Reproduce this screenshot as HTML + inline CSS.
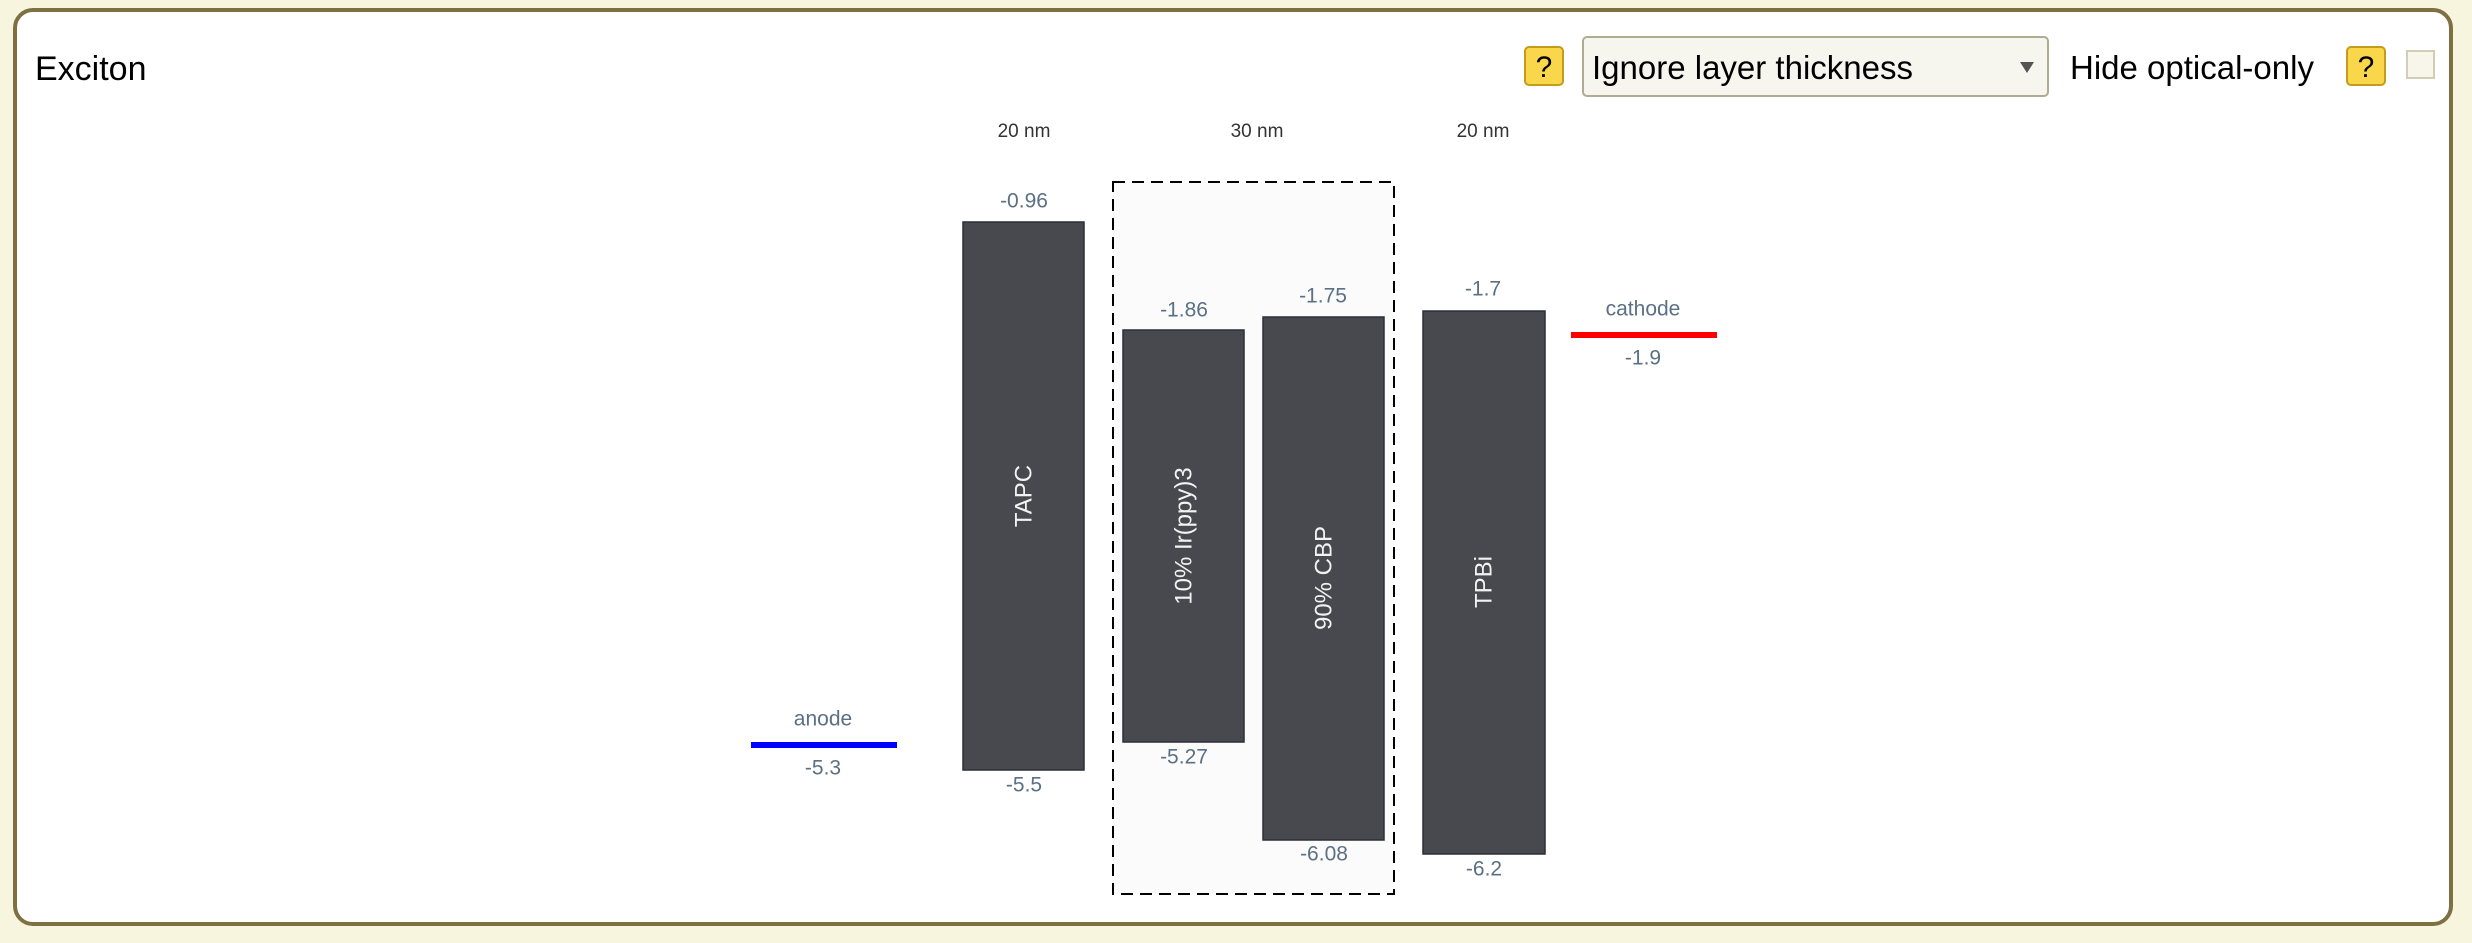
<!DOCTYPE html>
<html><head><meta charset="utf-8"><style>
html,body{margin:0;padding:0;background:#f8f5de;}
body{width:2472px;height:938px;overflow:hidden;font-family:"Liberation Sans",sans-serif;}
</style></head><body>
<svg width="2472" height="938" xmlns="http://www.w3.org/2000/svg" font-family="Liberation Sans, sans-serif">
<rect x="0" y="0" width="2472" height="938" fill="#f8f5de"/>
<rect x="15" y="10" width="2436" height="914" rx="18" ry="18" fill="#ffffff" stroke="#7e7043" stroke-width="4"/>
<text x="35" y="80" font-size="34" fill="#000">Exciton</text>
<!-- help 1 -->
<rect x="1525" y="47" width="38" height="38" rx="4" fill="#f9d64a" stroke="#c49c1c" stroke-width="2"/>
<text x="1544" y="77" font-size="30" text-anchor="middle" fill="#000">?</text>
<!-- select -->
<rect x="1583" y="37" width="465" height="59" rx="4" fill="#f7f6ee" stroke="#b1ab93" stroke-width="2"/>
<text x="1592" y="79" font-size="33" fill="#000">Ignore layer thickness</text>
<polygon points="2020,62 2034,62 2027,73" fill="#555"/>
<text x="2070" y="79" font-size="33" fill="#000">Hide optical-only</text>
<rect x="2347" y="47" width="38" height="38" rx="4" fill="#f9d64a" stroke="#c49c1c" stroke-width="2"/>
<text x="2366" y="77" font-size="30" text-anchor="middle" fill="#000">?</text>
<rect x="2407" y="51" width="27" height="27" fill="#f8f6ea" stroke="#d2cdb6" stroke-width="2"/>
<!-- thickness labels -->
<g font-size="19" fill="#333" text-anchor="middle">
<text x="1024" y="137">20 nm</text>
<text x="1257" y="137">30 nm</text>
<text x="1483" y="137">20 nm</text>
</g>
<!-- dashed box -->
<rect x="1113" y="182" width="281" height="712" fill="#fbfbfb" stroke="#000" stroke-width="2" stroke-dasharray="12,7"/>
<!-- bars -->
<g fill="#48494e" stroke="#2a2f38" stroke-width="1.5">
<rect x="963" y="222" width="121" height="548"/>
<rect x="1123" y="330" width="121" height="412"/>
<rect x="1263" y="317" width="121" height="523"/>
<rect x="1423" y="311" width="122" height="543"/>
</g>
<g font-size="24" fill="#f2f2f2" text-anchor="middle" dominant-baseline="central">
<text transform="translate(1024,496) rotate(-90)">TAPC</text>
<text transform="translate(1184,536) rotate(-90)">10% Ir(ppy)3</text>
<text transform="translate(1324,578) rotate(-90)">90% CBP</text>
<text transform="translate(1484,582) rotate(-90)">TPBi</text>
</g>
<!-- electrodes -->
<rect x="751" y="742" width="146" height="6" fill="#0000ff"/>
<rect x="1571" y="332" width="146" height="6" fill="#ff0000"/>
<g font-size="21" fill="#5b7085" text-anchor="middle" dominant-baseline="central">
<text x="1024" y="201">-0.96</text>
<text x="1184" y="310">-1.86</text>
<text x="1323" y="296">-1.75</text>
<text x="1483" y="289">-1.7</text>
<text x="1643" y="309">cathode</text>
<text x="1643" y="358">-1.9</text>
<text x="823" y="719">anode</text>
<text x="823" y="768">-5.3</text>
<text x="1024" y="785">-5.5</text>
<text x="1184" y="757">-5.27</text>
<text x="1324" y="854">-6.08</text>
<text x="1484" y="869">-6.2</text>
</g>
</svg>
</body></html>
